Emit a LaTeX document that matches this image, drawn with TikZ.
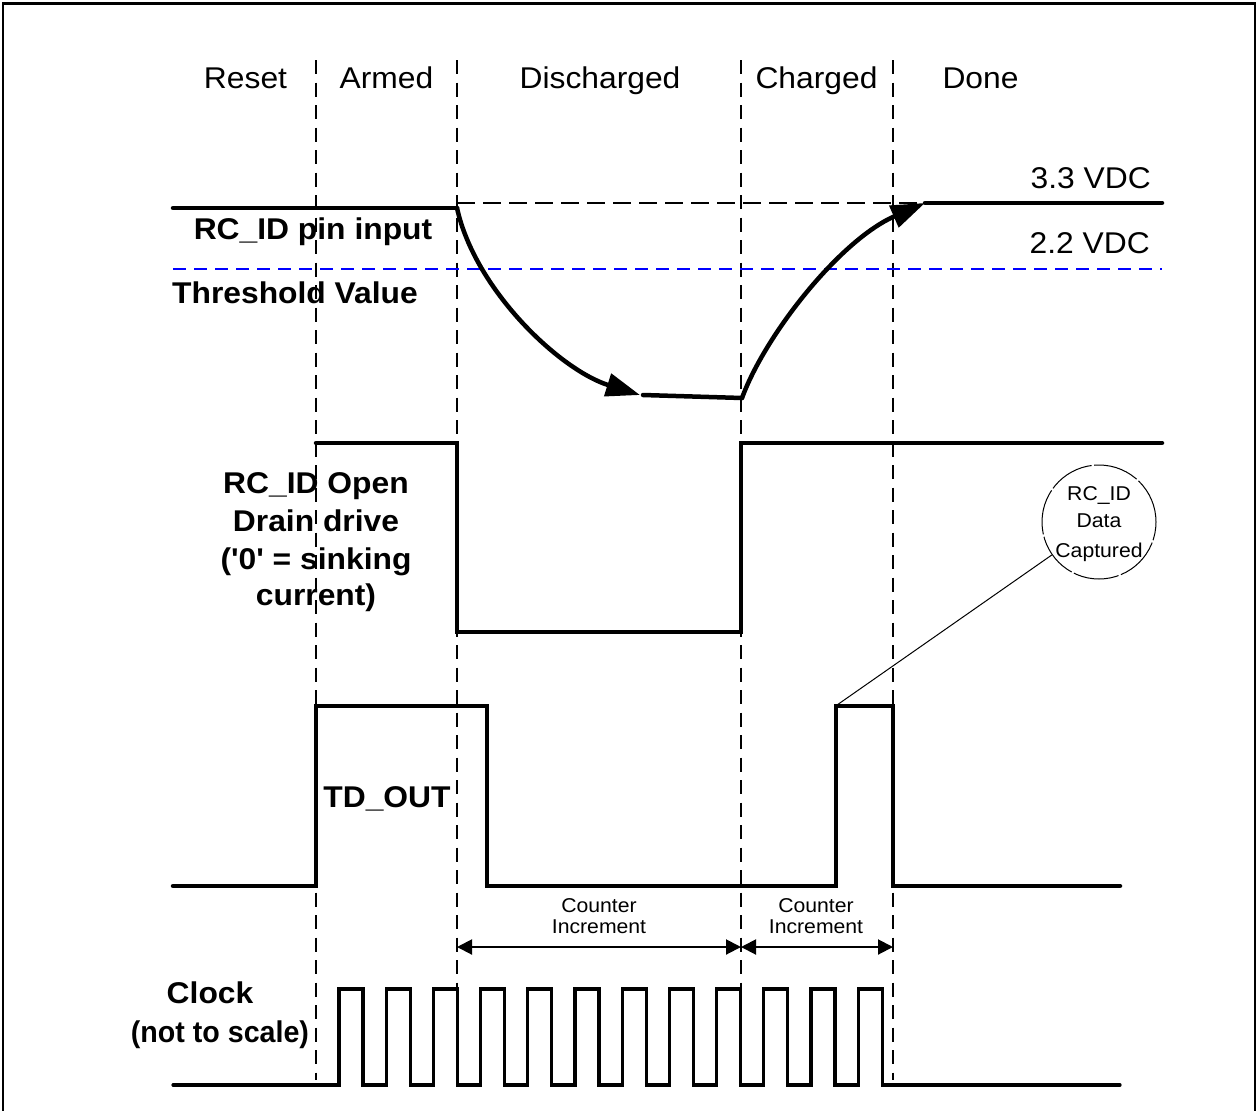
\documentclass[tikz,border=0pt]{standalone}
\usepackage{fontspec}
\setmainfont{Liberation Sans}[Ligatures=TeXOff, FakeStretch=1.06]
\usetikzlibrary{arrows.meta}
\begin{document}
\begin{tikzpicture}[x=1pt,y=-1pt,
  sig/.style={line width=4.5pt, line cap=round},
  clk/.style={line width=3.2pt, line cap=round},
  vdash/.style={line width=2.6pt, dash pattern=on 14pt off 8.5pt},
  hdash/.style={line width=2pt, dash pattern=on 18pt off 8pt},
  bdash/.style={line width=2pt, draw=blue, dash pattern=on 13pt off 8pt},
  big/.style={font=\fontsize{30}{36}\selectfont, inner sep=0pt, anchor=base},
  bigb/.style={font=\fontsize{30}{36}\selectfont\bfseries, inner sep=0pt, anchor=base},
  small/.style={font=\fontsize{20}{24}\selectfont, inner sep=0pt, anchor=base},
  bigtip/.style={-{Triangle[length=34pt,width=23pt]}},
  dimarrow/.style={line width=2pt, {Triangle[length=15pt,width=15pt]}-{Triangle[length=15pt,width=15pt]}},
  thinline/.style={line width=1pt}]
\useasboundingbox (0,0) rectangle (1258,1111);
\fill[white] (0,0) rectangle (1258,1111);
% frame
\draw[line width=3pt] (2,3) -- (1256,3);
\draw[line width=1.6pt] (3,3) -- (3,1111);
\draw[line width=1.6pt] (1255,3) -- (1255,1111);

% phase labels
\node[big] (reset) at (245.5,88) {Reset};
\node[big] (armed) at (386.5,88) {Armed};
\node[big] (disch) at (600,88) {Discharged};
\node[big] (charg) at (816.5,88) {Charged};
\node[big] (done) at (980.5,88) {Done};

% voltage labels
\node[big, anchor=base east] (v33) at (1151,188) {3.3 VDC};
\node[big, anchor=base east] (v22) at (1150,253) {2.2 VDC};

% signal labels
\node[bigb] (rcin) at (313,239) {RC\_ID pin input};
\node[bigb] (thr) at (295,303) {Threshold Value};
\node[bigb] (od1) at (316,493) {RC\_ID Open};
\node[bigb] (od2) at (316,531.5) {Drain drive};
\node[bigb] (od3) at (316,569.5) {('0' = sinking};
\node[bigb] (od4) at (316,605) {current)};
\node[bigb] (tdout) at (387,807) {TD\_OUT};
\node[bigb] (clk1) at (210,1003) {Clock};
\node[bigb] (clk2) at (220,1042) {\scalebox{0.9}[1]{(not to scale)}};

% counter increment labels
\node[small] (ci1t) at (599,912) {Counter};
\node[small] (ci1b) at (599,933) {Increment};
\node[small] (ci2t) at (816,912) {Counter};
\node[small] (ci2b) at (816,933) {Increment};

% callout circle
\node[draw, circle, minimum size=114pt, inner sep=0pt, thinline,
      dash pattern=on 46pt off 2.5pt] (cap) at (1099,522) {};
\node[small] (capa) at (1099,500) {RC\_ID};
\node[small] (capb) at (1099,527) {Data};
\node[small] (capc) at (1099,557) {Captured};

% phase boundaries
\foreach \x/\n in {316/a,457/b,741/c,893/d} {
  \coordinate (top\n) at (\x,60);
  \coordinate (bot\n) at (\x,1080);
  \draw[vdash] (top\n) -- (bot\n);
}

% reference levels
\draw[hdash] (457,203) -- (925,203);
\draw[bdash] (173,269) -- (1162,269);

% RC_ID pin input
\draw[sig] (173,208) -- (457,208);
\draw[sig, bigtip] (457,208) .. controls (475,290) and (560,370) .. (640,395);
\draw[sig] (643,395) -- (742,398);
\draw[sig, bigtip] (742,398) .. controls (765,335) and (840,240) .. (925,203);
\draw[sig] (925,203) -- (1162,203);

% open drain drive
\draw[sig] (316,443) -- (457,443) -- (457,632) -- (741,632) -- (741,443) -- (1162,443);

% TD_OUT
\draw[sig] (173,886) -- (316,886) -- (316,706) -- (487,706) -- (487,886)
  -- (836,886) -- (836,706) -- (893,706) -- (893,886) -- (1120,886);

% callout line
\coordinate (capfoot) at (837,705);
\draw[thinline] (capfoot) -- (cap);

% counter increment arrows
\coordinate (cia) at (457,947);
\coordinate (cib) at (741,947);
\coordinate (cic) at (893,947);
\draw[dimarrow] (cia) -- (cib);
\draw[dimarrow] (cib) -- (cic);

% clock
\draw[clk] (173,1085)
  foreach \k in {0,...,11} {
    -- ({339+47.2*\k},1085) -- ({339+47.2*\k},989)
    -- ({363+47.2*\k},989) -- ({363+47.2*\k},1085)
  } -- (1120,1085);
\end{tikzpicture}
\end{document}
